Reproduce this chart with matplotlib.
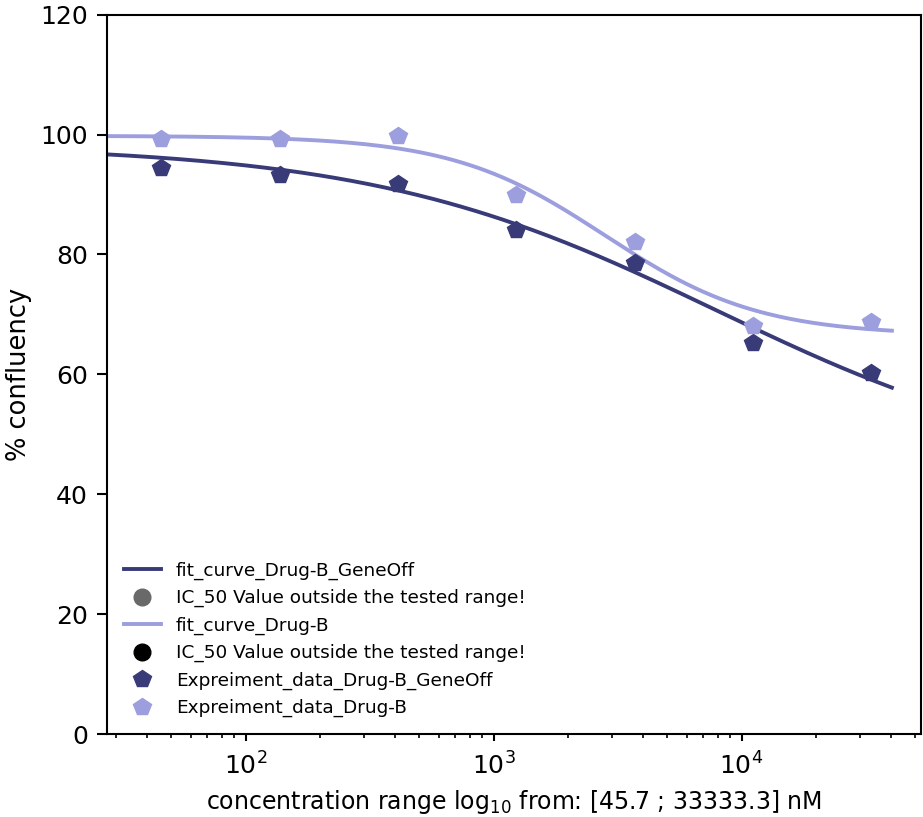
import numpy as np
import matplotlib
matplotlib.use('Agg')
import matplotlib.pyplot as plt

# concentrations (nM), 3-fold dilution series
conc = [45.7, 137.2, 411.5, 1234.6, 3703.7, 11111.1, 33333.3]

# mean % confluency per concentration
geneoff_vals = [94.4, 93.3, 91.8, 84.0, 78.5, 65.3, 60.3]
drugb_vals = [99.2, 99.3, 99.7, 90.0, 82.0, 68.0, 68.7]

# 4PL fit parameters: top, bottom, IC50 (nM), hill slope
geneoff_fit = [98.3, 43.0, 7943.0, 0.62]
drugb_fit = [99.8, 66.5, 2820.0, 1.4]

dark = '#393b79'
light = '#9c9ede'


def four_pl(x, top, bottom, ic50, hill):
    return bottom + (top - bottom) / (1 + (x / ic50) ** hill)


x_fit = np.logspace(1.3, 4.606, 300)

fig = plt.figure(figsize=(9.23, 8.17), dpi=100)
ax = fig.add_axes([107.3 / 923, (817 - 734) / 817, (921 - 107.3) / 923, (734 - 14.7) / 817])

ax.plot(x_fit, four_pl(x_fit, *geneoff_fit), color=dark, lw=2.8, label='fit_curve_Drug-B_GeneOff')
ax.plot([], [], 'o', color='#696969', ms=12, label='IC_50 Value outside the tested range!')
ax.plot(x_fit, four_pl(x_fit, *drugb_fit), color=light, lw=2.8, label='fit_curve_Drug-B')
ax.plot([], [], 'o', color='black', ms=12, label='IC_50 Value outside the tested range!')
ax.plot(conc, geneoff_vals, 'p', color=dark, ms=13, label='Expreiment_data_Drug-B_GeneOff')
ax.plot(conc, drugb_vals, 'p', color=light, ms=13, label='Expreiment_data_Drug-B')

ax.set_xscale('log')
ax.set_xlim(27.7, 52900)
ax.set_ylim(0, 120)
for s in ax.spines.values():
    s.set_linewidth(1.5)
ax.tick_params(axis='y', which='major', labelsize=18, length=7, width=1.5, pad=7)
ax.tick_params(axis='x', which='major', labelsize=18, length=5, width=1.5, pad=8)
ax.tick_params(axis='x', which='minor', length=3, width=1.2)
ax.set_xlabel('concentration range log$_{10}$ from: [45.7 ; 33333.3] nM', fontsize=17, labelpad=6)
ax.set_ylabel('% confluency', fontsize=18.5, labelpad=6)
ax.legend(loc='lower left', frameon=False, fontsize=13.3)

fig.savefig('out.png', dpi=100)
